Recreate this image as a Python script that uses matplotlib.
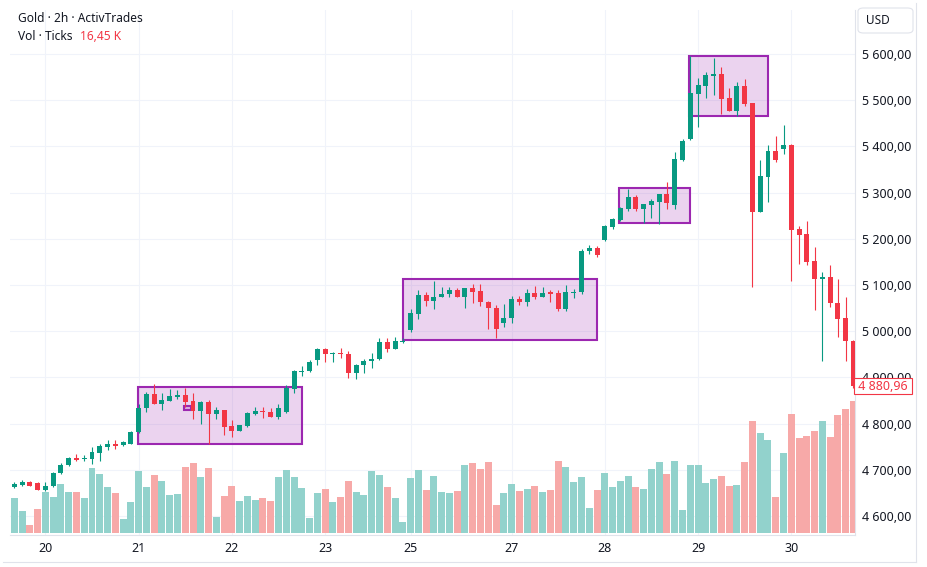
import matplotlib
matplotlib.use('Agg')
import matplotlib.pyplot as plt
from matplotlib.patches import Rectangle, FancyBboxPatch
from matplotlib.transforms import blended_transform_factory
import numpy as np

plt.rcParams['font.family'] = ['Noto Sans', 'DejaVu Sans']

# ---------------- data ----------------
opens = [4663, 4668, 4673, 4671, 4657, 4665, 4693, 4710, 4725, 4723,
         4723, 4737, 4750, 4756, 4753, 4756, 4781, 4833, 4864, 4843,
         4850, 4858, 4862, 4849, 4828, 4847, 4821, 4829, 4795, 4785,
         4795, 4821, 4827, 4825, 4815, 4826, 4875, 4912, 4913, 4938,
         4961, 4951, 4953, 4950, 4910, 4926, 4935, 4939, 4976, 4962,
         4977, 5003, 5038, 5078, 5066, 5074, 5080, 5089, 5075, 5093,
         5086, 5064, 5051, 5018, 5028, 5070, 5063, 5083, 5074, 5084,
         5082, 5049, 5083, 5085, 5174, 5180, 5197, 5226, 5241, 5265,
         5290, 5265, 5273, 5280, 5297, 5273, 5371, 5416, 5514, 5531,
         5552, 5557, 5505, 5477, 5531, 5494, 5259, 5334, 5390, 5394,
         5403, 5222, 5210, 5152, 5112, 5117, 5061, 5029, 4979]
highs = [4674, 4678, 4675, 4673, 4673, 4695, 4715, 4728, 4734, 4732,
         4749, 4756, 4764, 4764, 4762, 4784, 4842, 4868, 4886, 4866,
         4875, 4873, 4877, 4866, 4848, 4851, 4837, 4830, 4808, 4798,
         4826, 4836, 4836, 4834, 4842, 4884, 4916, 4925, 4938, 4964,
         4964, 4955, 4964, 4957, 4929, 4940, 4953, 4985, 4985, 4987,
         4985, 5047, 5089, 5085, 5109, 5096, 5096, 5094, 5094, 5102,
         5102, 5066, 5057, 5059, 5076, 5076, 5091, 5098, 5096, 5089,
         5089, 5100, 5091, 5178, 5186, 5185, 5230, 5245, 5268, 5308,
         5295, 5276, 5286, 5297, 5323, 5388, 5416, 5596, 5548, 5561,
         5591, 5572, 5526, 5539, 5546, 5495, 5371, 5403, 5423, 5446,
         5405, 5228, 5239, 5183, 5129, 5144, 5112, 5073, 4982]
lows = [4661, 4666, 4665, 4656, 4655, 4663, 4692, 4709, 4719, 4719,
        4713, 4720, 4743, 4746, 4751, 4756, 4780, 4826, 4842, 4830,
        4848, 4853, 4837, 4811, 4800, 4756, 4811, 4776, 4770, 4783,
        4793, 4819, 4813, 4814, 4809, 4824, 4867, 4904, 4911, 4927,
        4934, 4933, 4942, 4899, 4897, 4910, 4921, 4937, 4956, 4961,
        4974, 4998, 5027, 5055, 5049, 5073, 5074, 5074, 5051, 5062,
        5055, 5005, 4986, 5010, 5017, 5057, 5055, 5070, 5074, 5064,
        5044, 5044, 5072, 5080, 5168, 5160, 5195, 5221, 5239, 5260,
        5260, 5234, 5245, 5232, 5265, 5265, 5369, 5414, 5443, 5505,
        5511, 5470, 5476, 5466, 5488, 5096, 5257, 5280, 5366, 5384,
        5109, 5146, 5144, 5046, 4936, 5053, 4988, 4936, 4876]
closes = [4669, 4674, 4666, 4657, 4666, 4693, 4710, 4725, 4721, 4725,
          4738, 4751, 4756, 4751, 4760, 4782, 4834, 4864, 4843, 4851,
          4860, 4862, 4847, 4828, 4847, 4821, 4830, 4793, 4785, 4796,
          4823, 4827, 4825, 4815, 4834, 4876, 4914, 4914, 4933, 4961,
          4951, 4953, 4950, 4910, 4927, 4936, 4940, 4977, 4962, 4979,
          4979, 5039, 5078, 5066, 5074, 5081, 5089, 5075, 5093, 5085,
          5064, 5051, 5005, 5029, 5070, 5063, 5083, 5074, 5083, 5081,
          5049, 5085, 5085, 5174, 5180, 5165, 5228, 5243, 5267, 5290,
          5265, 5275, 5282, 5297, 5278, 5373, 5412, 5516, 5533, 5555,
          5557, 5503, 5477, 5531, 5492, 5259, 5336, 5390, 5371, 5403,
          5220, 5209, 5150, 5112, 5117, 5060, 5027, 4979, 4881]
volumes_k = [4.36, 2.74, 1.00, 2.99, 5.11, 4.49, 6.11, 5.11, 5.11, 4.36,
             8.10, 7.36, 5.74, 4.99, 1.75, 3.87, 7.73, 5.74, 7.23, 6.48,
             4.74, 4.86, 8.23, 8.73, 6.98, 8.10, 2.00, 4.61, 5.86, 3.99,
             4.61, 4.11, 4.36, 3.99, 6.98, 7.86, 6.98, 5.61, 1.87, 4.99,
             5.49, 3.87, 4.49, 6.48, 5.11, 4.74, 7.73, 7.23, 5.74, 4.36,
             1.37, 6.86, 7.86, 5.36, 7.11, 5.11, 4.99, 5.24, 8.48, 8.73,
             7.98, 8.85, 3.49, 4.99, 6.11, 5.24, 5.49, 5.86, 5.11, 5.36,
             8.98, 8.23, 6.36, 6.98, 3.12, 5.36, 7.48, 5.74, 6.48, 7.11,
             5.74, 5.49, 7.98, 8.85, 7.36, 8.98, 2.87, 8.48, 8.48, 6.23,
             6.73, 7.11, 5.86, 5.99, 8.85, 13.97, 12.47, 11.60, 4.49, 9.98,
             14.84, 11.85, 12.09, 12.72, 13.97, 11.97, 14.71, 15.46, 16.45]

day_labels = ['20', '21', '22', '23', '25', '27', '28', '29', '30']
day_bar_index = [4, 16, 28, 40, 51, 64, 76, 88, 100]
price_ticks = [4600, 4700, 4800, 4900, 5000, 5100, 5200, 5300, 5400, 5500, 5600]

# consolidation boxes: (start bar, end bar, low price, high price)
box_start = [15.96, 50.03, 77.8, 86.83, 21.9]
box_end = [37.07, 75.0, 86.96, 97.0, 22.8]
box_low = [4756, 4981, 5234, 5466, 4829]
box_high = [4879, 5113, 5310, 5596, 4838]

last_price = 4880.96
symbol_title = 'Gold · 2h · ActivTrades'
vol_title = 'Vol · Ticks'
vol_value = '16,45 K'
currency = 'USD'

# ---------------- styling ----------------
GREEN = '#089981'
RED = '#f23645'
VGREEN = '#92d2cc'
VRED = '#f7a9a8'
GRID = '#f0f3fa'
TEXT = '#131722'
PURPLE = '#9c27b0'

W, H = 927, 567
fig = plt.figure(figsize=(W / 100, H / 100), dpi=100)
fig.patch.set_facecolor('white')

def fx(px):
    return px / W

def fy(py):
    return 1 - py / H

L, R, T, B = 10, 855, 10, 535
ax = fig.add_axes([fx(L), fy(B), (R - L) / W, (B - T) / H])

n = len(opens)
x = np.arange(n)
o = np.array(opens, float)
c = np.array(closes, float)
h = np.array(highs, float)
lo = np.array(lows, float)
up = c >= o

# candles
ax.vlines(x[up], lo[up], h[up], color=GREEN, lw=0.8, zorder=3)
ax.vlines(x[~up], lo[~up], h[~up], color=RED, lw=0.8, zorder=3)
body_bot = np.minimum(o, c)
body_h = np.maximum(np.abs(c - o), 1.6)
ax.bar(x, body_h, bottom=body_bot, width=0.64,
       color=np.where(up, GREEN, RED), linewidth=0, zorder=4)

# boxes
for s, e, bl, bh in zip(box_start, box_end, box_low, box_high):
    ax.add_patch(Rectangle((s, bl), e - s, bh - bl, facecolor=PURPLE, alpha=0.2,
                           edgecolor='none', zorder=2))
    ax.add_patch(Rectangle((s, bl), e - s, bh - bl, facecolor='none',
                           edgecolor=PURPLE, lw=1.5, zorder=2.5))

ax.set_xlim((L - 14.3) / 7.77, (R - 14.3) / 7.77)
ax.set_ylim(5716.9 - 2.1645 * B, 5716.9 - 2.1645 * T)

# volume overlay (drawn underneath the price axes)
axv = ax.twinx()
axv.set_ylim(-2 / 8.02, (533 - 10) / 8.02)
axv.bar(x, volumes_k, width=0.9, color=np.where(up, VGREEN, VRED),
        linewidth=0, zorder=1)
axv.set_yticks([])
for sp in axv.spines.values():
    sp.set_visible(False)
ax.set_zorder(axv.get_zorder() + 1)
ax.patch.set_visible(False)
axv.patch.set_visible(True)
axv.patch.set_facecolor('white')

# grid lines under the volume bars
bt = blended_transform_factory(axv.transAxes, ax.transData)
for p in price_ticks:
    axv.plot([0, 1], [p, p], color=GRID, lw=0.8, transform=bt, zorder=0)
for d in day_bar_index:
    axv.axvline(d, color=GRID, lw=0.8, zorder=0)

# ticks (after twinx, which moves the price ticks to the left)
ax.set_xticks(day_bar_index)
ax.set_xticklabels(day_labels)
ax.set_yticks(price_ticks)
ax.set_yticklabels([f'{p // 1000} {p % 1000:03d},00' for p in price_ticks])
ax.yaxis.tick_right()
ax.yaxis.set_label_position('right')
ax.tick_params(axis='y', which='both', left=False, right=False, labelleft=False,
               labelright=True, length=0, pad=5, labelsize=9, labelcolor=TEXT)
ax.tick_params(axis='x', length=0, pad=5, labelsize=9, labelcolor=TEXT)
axv.tick_params(axis='both', length=0, labelleft=False, labelright=False, labelbottom=False)
for sp in ['top', 'left']:
    ax.spines[sp].set_visible(False)
for sp in ['right', 'bottom']:
    ax.spines[sp].set_color('#e0e3eb')
    ax.spines[sp].set_linewidth(0.8)

# last price label (covers the lower part of the 4 900 label, as in the reference)
ax.text(1.0, last_price, ' 4 880,96 ', transform=blended_transform_factory(ax.transAxes, ax.transData),
        ha='left', va='center', fontsize=9, color=RED, clip_on=False, zorder=10,
        bbox=dict(boxstyle='square,pad=0.12', facecolor='white', edgecolor=RED, lw=0.8))

# legend texts
fig.text(fx(18), fy(18), symbol_title, ha='left', va='center', fontsize=8.6, color=TEXT)
fig.text(fx(18), fy(36), vol_title, ha='left', va='center', fontsize=8.6, color=TEXT)
fig.text(fx(80), fy(36), vol_value, ha='left', va='center', fontsize=8.6, color=RED)

# currency box
fig.patches.append(FancyBboxPatch((fx(858), fy(33)), fx(913) - fx(858), fy(8) - fy(33),
                                  boxstyle='round,pad=0,rounding_size=0.006',
                                  transform=fig.transFigure, facecolor='white',
                                  edgecolor='#e0e3eb', lw=0.8))
fig.text(fx(866), fy(20.5), currency, ha='left', va='center', fontsize=8.5, color=TEXT)

# outer frame
fig.add_artist(plt.Line2D([fx(916), fx(916)], [fy(3), fy(562)], color='#e0e3eb', lw=0.8))
fig.add_artist(plt.Line2D([fx(3), fx(916)], [fy(562), fy(562)], color='#e0e3eb', lw=0.8))

fig.savefig('out.png', dpi=100)
